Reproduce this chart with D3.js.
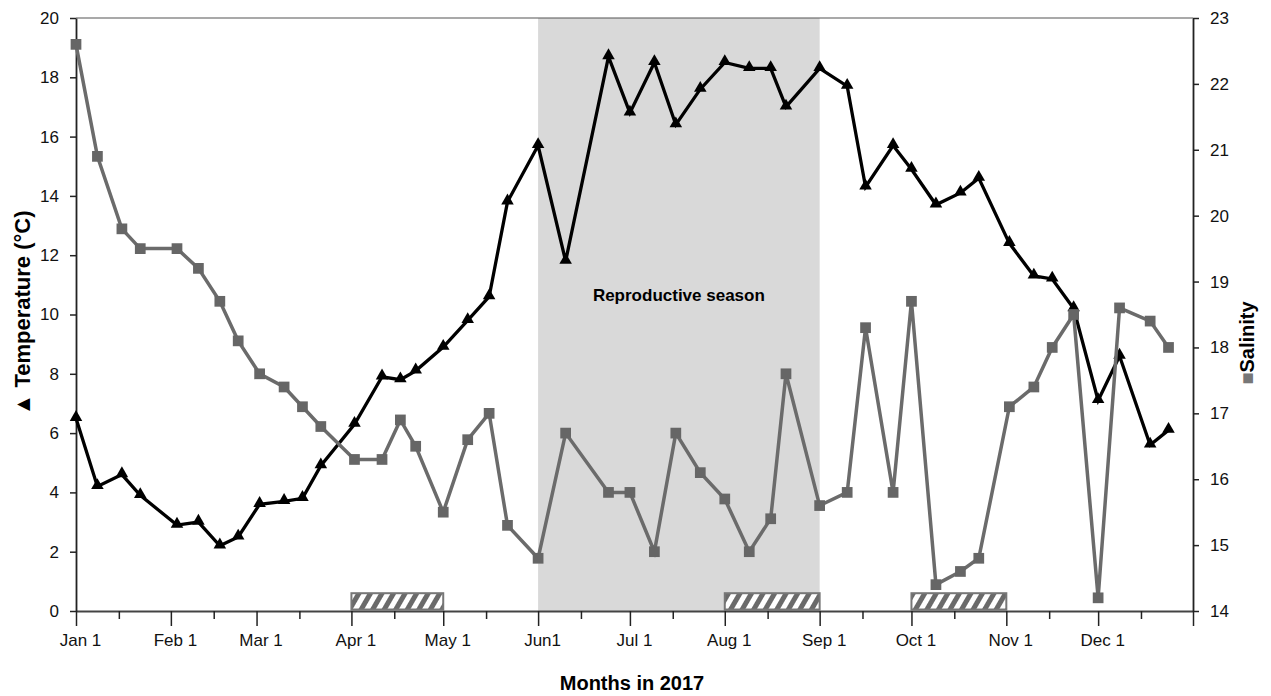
<!DOCTYPE html>
<html>
<head>
<meta charset="utf-8">
<script src="https://cdn.jsdelivr.net/npm/d3@7"></script>
<style>
body { margin: 0; background: #fff; }
svg { display: block; font-family: "Liberation Sans", Arial, sans-serif; }
</style>
</head>
<body>
<div id="chart"></div>
<script>
// sampling dates (2017)
var dates = ["2017-01-01","2017-01-08","2017-01-16","2017-01-22","2017-02-03","2017-02-10","2017-02-17","2017-02-23",
    "2017-03-02","2017-03-10","2017-03-16","2017-03-22","2017-04-02","2017-04-11","2017-04-17","2017-04-22",
    "2017-05-01","2017-05-09","2017-05-16","2017-05-22","2017-06-01","2017-06-10","2017-06-24","2017-07-01",
    "2017-07-09","2017-07-16","2017-07-24","2017-08-01","2017-08-09","2017-08-16","2017-08-21","2017-09-01",
    "2017-09-10","2017-09-16","2017-09-25","2017-10-01","2017-10-09","2017-10-17","2017-10-23","2017-11-02",
    "2017-11-10","2017-11-16","2017-11-23","2017-12-01","2017-12-08","2017-12-18","2017-12-24"];
var temperature = [6.5,4.2,4.6,3.9,2.9,3.0,2.2,2.5,
    3.6,3.7,3.8,4.9,6.3,7.9,7.8,8.1,
    8.9,9.8,10.6,13.8,15.7,11.8,18.7,16.8,
    18.5,16.4,17.6,18.5,18.3,18.3,17.0,18.3,
    17.7,14.3,15.7,14.9,13.7,14.1,14.6,12.4,
    11.3,11.2,10.2,7.1,8.6,5.6,6.1];
var salinity = [22.6,20.9,19.8,19.5,19.5,19.2,18.7,18.1,
    17.6,17.4,17.1,16.8,16.3,16.3,16.9,16.5,
    15.5,16.6,17.0,15.3,14.8,16.7,15.8,15.8,
    14.9,16.7,16.1,15.7,14.9,15.4,17.6,15.6,
    15.8,18.3,15.8,18.7,14.4,14.6,14.8,17.1,
    17.4,18.0,18.5,14.2,18.6,18.4,18.0];

var monthTicks = ["2017-01-01","2017-02-01","2017-03-01","2017-04-01","2017-05-01","2017-06-01",
    "2017-07-01","2017-08-01","2017-09-01","2017-10-01","2017-11-01","2017-12-01","2018-01-01"];
var monthLabels = ["Jan 1","Feb 1","Mar 1","Apr 1","May 1","Jun1","Jul 1","Aug 1","Sep 1","Oct 1","Nov 1","Dec 1",""];
var midTicks = ["2017-01-15","2017-02-15","2017-03-15","2017-04-15","2017-05-15","2017-06-15",
    "2017-07-15","2017-08-15","2017-09-15","2017-10-15","2017-11-15","2017-12-15"];
var tempTicks = [0,2,4,6,8,10,12,14,16,18,20];
var salTicks = [14,15,16,17,18,19,20,21,22,23];
var seasonRange = ["2017-06-01","2017-09-01"];
var hatchStarts = ["2017-04-01","2017-08-01","2017-10-01"];
var hatchEnds = ["2017-05-01","2017-09-01","2017-11-01"];

var parse = d3.timeParse("%Y-%m-%d");
var W = 1271, H = 696;
var plotL = 76, plotR = 1193, plotT = 18, plotB = 611;

var svg = d3.select("#chart").append("svg")
    .attr("width", W).attr("height", H);

var x = d3.scaleTime()
    .domain([parse("2017-01-01"), parse("2018-01-01")])
    .range([plotL, plotR]);
var yT = d3.scaleLinear().domain([0, 20]).range([plotB, plotT]);
var yS = d3.scaleLinear().domain([14, 23]).range([plotB, plotT]);

// hatch pattern
var defs = svg.append("defs");
var pat = defs.append("pattern")
    .attr("id", "hatch")
    .attr("patternUnits", "userSpaceOnUse")
    .attr("width", 10).attr("height", 10)
    .attr("patternTransform", "rotate(30)");
pat.append("rect").attr("width", 10).attr("height", 10).attr("fill", "#6a6a6a");
pat.append("rect").attr("width", 5).attr("height", 10).attr("fill", "#fff");

// reproductive season shading
svg.append("rect")
    .attr("x", x(parse(seasonRange[0])))
    .attr("y", plotT)
    .attr("width", x(parse(seasonRange[1])) - x(parse(seasonRange[0])))
    .attr("height", plotB - plotT)
    .attr("fill", "#d9d9d9");

svg.append("text")
    .attr("x", (x(parse(seasonRange[0])) + x(parse(seasonRange[1]))) / 2)
    .attr("y", 301)
    .attr("text-anchor", "middle")
    .attr("font-weight", "bold")
    .attr("font-size", 17)
    .text("Reproductive season");

// top border
svg.append("line")
    .attr("x1", plotL).attr("x2", plotR)
    .attr("y1", plotT).attr("y2", plotT)
    .attr("stroke", "#555").attr("stroke-width", 1.2);

// hatched bars
svg.append("g").selectAll("rect")
    .data(hatchStarts)
    .enter().append("rect")
    .attr("x", function (d) { return x(parse(d)); })
    .attr("y", yT(0.6))
    .attr("width", function (d, i) { return x(parse(hatchEnds[i])) - x(parse(d)); })
    .attr("height", yT(0.05) - yT(0.6))
    .attr("fill", "url(#hatch)")
    .attr("stroke", "#777")
    .attr("stroke-width", 2);

// axes
var labelFor = {};
monthTicks.forEach(function (d, i) { labelFor[d] = monthLabels[i]; });

var xAxis = svg.append("g")
    .attr("transform", "translate(0," + plotB + ")")
    .call(d3.axisBottom(x)
        .tickValues(monthTicks.map(parse))
        .tickSize(15).tickSizeOuter(0).tickPadding(8)
        .tickFormat(function (d) { return labelFor[d3.timeFormat("%Y-%m-%d")(d)]; }));
xAxis.selectAll(".tick text").attr("dx", 4);
svg.append("g")
    .attr("transform", "translate(0," + plotB + ")")
    .call(d3.axisBottom(x)
        .tickValues(midTicks.map(parse))
        .tickSize(8).tickSizeOuter(0)
        .tickFormat(""))
    .call(function (g) {
        g.select(".domain").remove();
        g.selectAll("line").attr("stroke", "#222").attr("stroke-width", 1.5);
    });

var yAxisL = svg.append("g")
    .attr("transform", "translate(" + plotL + ",0)")
    .call(d3.axisLeft(yT).tickValues(tempTicks).tickSize(6).tickSizeOuter(0).tickPadding(11));
var yAxisR = svg.append("g")
    .attr("transform", "translate(" + plotR + ",0)")
    .call(d3.axisRight(yS).tickValues(salTicks).tickSize(6).tickSizeOuter(0).tickPadding(11));

[xAxis, yAxisL, yAxisR].forEach(function (g) {
    g.selectAll("text").attr("font-size", 17).attr("fill", "#111")
        .attr("font-family", "'Liberation Sans', Arial, sans-serif");
    g.selectAll("line").attr("stroke", "#222").attr("stroke-width", 1.5);
    g.select(".domain").attr("stroke", "#222").attr("stroke-width", 1.8);
});
xAxis.select(".domain").attr("stroke", "#444");

// data
var rows = dates.map(function (d, i) {
    return { date: parse(d), temp: temperature[i], sal: salinity[i] };
});

svg.append("path")
    .datum(rows)
    .attr("fill", "none")
    .attr("stroke", "#000")
    .attr("stroke-width", 3.3)
    .attr("d", d3.line()
        .x(function (d) { return x(d.date); })
        .y(function (d) { return yT(d.temp); }));

svg.append("g").selectAll("path")
    .data(rows)
    .enter().append("path")
    .attr("transform", function (d) { return "translate(" + x(d.date) + "," + (yT(d.temp) - 1) + ")"; })
    .attr("d", d3.symbol().type(d3.symbolTriangle).size(68))
    .attr("fill", "#000");

svg.append("path")
    .datum(rows)
    .attr("fill", "none")
    .attr("stroke", "#6b6b6b")
    .attr("stroke-width", 3.5)
    .attr("d", d3.line()
        .x(function (d) { return x(d.date); })
        .y(function (d) { return yS(d.sal); }));

svg.append("g").selectAll("path")
    .data(rows)
    .enter().append("path")
    .attr("transform", function (d) { return "translate(" + x(d.date) + "," + yS(d.sal) + ")"; })
    .attr("d", d3.symbol().type(d3.symbolSquare).size(115))
    .attr("fill", "#666");

// axis titles
svg.append("text")
    .attr("x", 632).attr("y", 690)
    .attr("text-anchor", "middle")
    .attr("font-weight", "bold")
    .attr("font-size", 20)
    .text("Months in 2017");

var tl = svg.append("text")
    .attr("transform", "translate(30,313) rotate(-90)")
    .attr("text-anchor", "middle")
    .attr("font-weight", "bold")
    .attr("font-size", 22);
tl.append("tspan").text("\u25B2 ");
tl.append("tspan").text("Temperature (\u00B0C)");

var sl = svg.append("text")
    .attr("transform", "translate(1254,343) rotate(-90)")
    .attr("text-anchor", "middle")
    .attr("font-weight", "bold")
    .attr("font-size", 20);
sl.append("tspan").attr("fill", "#777").text("\u25A0");
sl.append("tspan").text("Salinity");
</script>
</body>
</html>
